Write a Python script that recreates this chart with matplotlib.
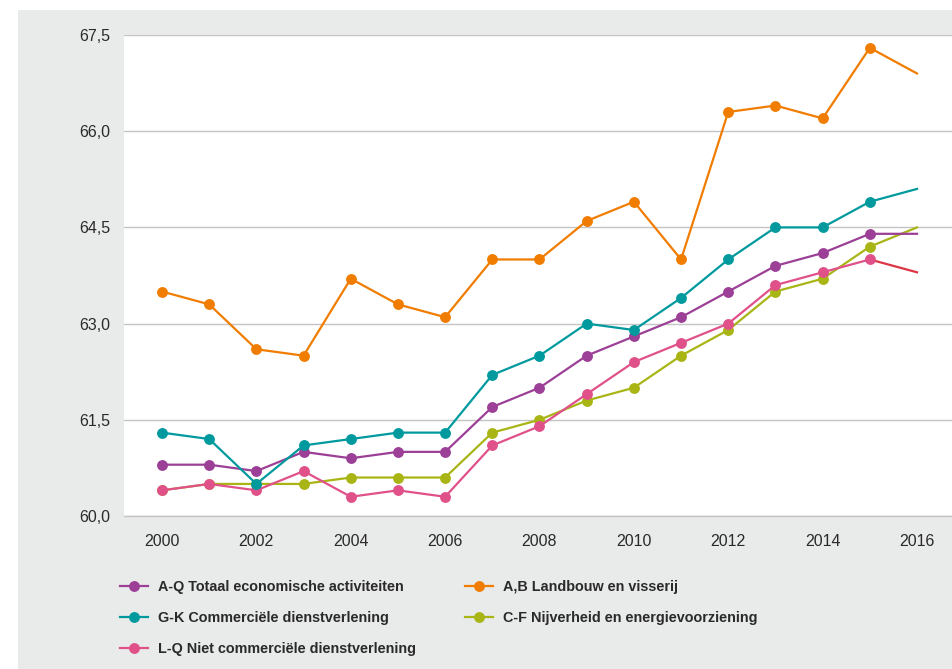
import matplotlib
matplotlib.use("Agg")
import matplotlib.pyplot as plt
from matplotlib.lines import Line2D
from matplotlib.patches import Rectangle

years = list(range(2000, 2017))
totaal = [60.8, 60.8, 60.7, 61.0, 60.9, 61.0, 61.0, 61.7, 62.0, 62.5, 62.8, 63.1, 63.5, 63.9, 64.1, 64.4, 64.4]
landbouw = [63.5, 63.3, 62.6, 62.5, 63.7, 63.3, 63.1, 64.0, 64.0, 64.6, 64.9, 64.0, 66.3, 66.4, 66.2, 67.3, 66.9]
commercieel = [61.3, 61.2, 60.5, 61.1, 61.2, 61.3, 61.3, 62.2, 62.5, 63.0, 62.9, 63.4, 64.0, 64.5, 64.5, 64.9, 65.1]
nijverheid = [60.4, 60.5, 60.5, 60.5, 60.6, 60.6, 60.6, 61.3, 61.5, 61.8, 62.0, 62.5, 62.9, 63.5, 63.7, 64.2, 64.5]
niet_comm = [60.4, 60.5, 60.4, 60.7, 60.3, 60.4, 60.3, 61.1, 61.4, 61.9, 62.4, 62.7, 63.0, 63.6, 63.8, 64.0, 63.8]

labels = ["A-Q Totaal economische activiteiten", "A,B Landbouw en visserij",
          "G-K Commerciële dienstverlening", "C-F Nijverheid en energievoorziening",
          "L-Q Niet commerciële dienstverlening"]
yticks = [60.0, 61.5, 63.0, 64.5, 66.0, 67.5]
ytick_labels = ["60,0", "61,5", "63,0", "64,5", "66,0", "67,5"]
xticks = list(range(2000, 2017, 2))

c_purple = "#9c3f96"
c_orange = "#f07d00"
c_teal = "#009a9e"
c_olive = "#a9b515"
c_pink = "#e0518a"
c_red = "#dc3545"
bg = "#e9eaea"
text_c = "#2a2a2a"

W, H = 953, 669
fig = plt.figure(figsize=(W / 100, H / 100), dpi=100)
fig.patch.set_facecolor("white")
fig.patches.append(Rectangle((18 / W, 0), 1 - 18 / W, 1 - 10 / H, transform=fig.transFigure,
                             facecolor=bg, edgecolor="none", zorder=-10))

ax = fig.add_axes([124 / W, (H - 516) / H, (W - 124) / W, (516 - 35) / H])
ax.set_facecolor("white")

lw = 1.6
ms = 6.8
me = slice(0, len(years) - 1)
ax.plot(years, nijverheid, color=c_olive, lw=lw, marker="o", ms=ms, markevery=me, zorder=3)
ax.plot(years[:-1], niet_comm[:-1], color=c_pink, lw=lw, zorder=3)
ax.plot(years[-2:], niet_comm[-2:], color=c_red, lw=lw, zorder=3)
ax.plot(years[:-1], niet_comm[:-1], color=c_pink, lw=0, marker="o", ms=ms, zorder=3.1)
ax.plot(years, totaal, color=c_purple, lw=lw, marker="o", ms=ms, markevery=me, zorder=4)
ax.plot(years, commercieel, color=c_teal, lw=lw, marker="o", ms=ms, markevery=me, zorder=5)
ax.plot(years, landbouw, color=c_orange, lw=lw, marker="o", ms=ms, markevery=me, zorder=6)

ax.set_xlim(2000 - 38 / 47.19, 2016 + 36 / 47.19)
ax.set_ylim(60.0, 67.5)
ax.set_yticks(yticks)
ax.set_yticklabels(ytick_labels)
ax.set_xticks(xticks)
ax.grid(axis="y", color="#c4c4c4", lw=1.0)
ax.set_axisbelow(True)
for s in ["top", "right", "left"]:
    ax.spines[s].set_visible(False)
ax.spines["bottom"].set_color("#c4c4c4")
ax.spines["bottom"].set_linewidth(1.0)
ax.tick_params(axis="both", length=0, labelsize=11.5, colors=text_c)
ax.tick_params(axis="y", pad=10)
ax.tick_params(axis="x", pad=13)
for t in ax.get_xticklabels() + ax.get_yticklabels():
    t.set_fontfamily(["Liberation Sans", "DejaVu Sans"])

def handle(c):
    return Line2D([0], [0], color=c, lw=lw, marker="o", ms=ms)

fs = 10.4
leg_font = {"family": ["Liberation Sans", "DejaVu Sans"], "weight": "bold", "size": fs}
common = dict(frameon=False, prop=leg_font, handlelength=1.94, handletextpad=0.69,
              labelspacing=1.18, borderpad=0, borderaxespad=0, loc="upper left",
              bbox_transform=fig.transFigure, labelcolor=text_c)
leg1 = fig.legend([handle(c_purple), handle(c_teal), handle(c_pink)],
                  [labels[0], labels[2], labels[4]],
                  bbox_to_anchor=(120 / W, (H - 580) / H), **common)
leg2 = fig.legend([handle(c_orange), handle(c_olive)],
                  [labels[1], labels[3]],
                  bbox_to_anchor=(465 / W, (H - 580) / H), **common)

fig.savefig("out.png", dpi=100)
